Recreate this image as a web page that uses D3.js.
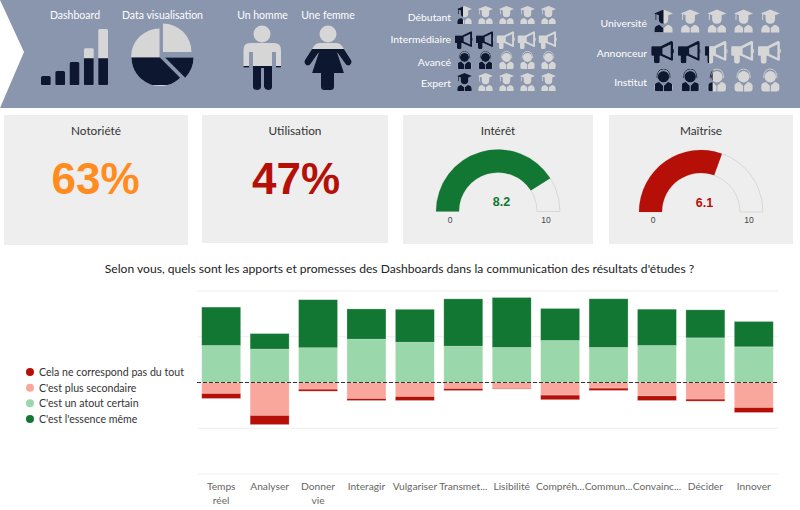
<!DOCTYPE html>
<html>
<head>
<meta charset="utf-8">
<script src="https://cdn.jsdelivr.net/npm/d3@7"></script>
<style>
  html, body { margin: 0; padding: 0; background: #fff; }
  svg { display: block; }
  text { font-family: Lato, "Open Sans", sans-serif; }
  .arial { font-family: "Liberation Sans", Arial, sans-serif; }
</style>
</head>
<body>
<svg id="chart" width="800" height="510"></svg>
<script>
// stacked bars, in % of answers
const categories = ["Temps réel", "Analyser", "Donner vie", "Interagir", "Vulgariser", "Transmet...", "Lisibilité", "Compréh...", "Commun...", "Convainc...", "Décider", "Innover"];
const essence = [42, 17, 52.5, 33, 36, 51.7, 54.6, 35, 53.2, 39.7, 30.6, 27.7];
const atout = [40.4, 36.5, 38, 47.4, 44, 39.7, 38.3, 45.9, 38.3, 40.4, 48.8, 39];
const secondaire = [12, 36, 7.3, 17.5, 15.3, 6.6, 6.5, 13.8, 6.2, 14.6, 18.2, 27.3];
const pasDuTout = [5.5, 10, 2.2, 2.2, 4.4, 2.2, 0.7, 5, 2.5, 5.1, 2.2, 5.5];
const yTicks = [100, 50, 0, -50, -100];

const legendLabels = ["Cela ne correspond pas du tout", "C'est plus secondaire", "C'est un atout certain", "C'est l'essence même"];

// header figures
const dashboardShare = 0.48, datavizShare = 0.45, hommeShare = 0.37, femmeShare = 0.63;
const barHeights = [0.33, 0.51, 0.83, 1.32, 2];
const pieSlices = [25, 12.5, 37.5, 25];
const levelLabels = ["Débutant", "Intermédiaire", "Avancé", "Expert"];
const levelValues = [0.4, 1.97, 2, 1];
const levelIcons = ["grad", "mega", "head", "grad"];
const orgLabels = ["Université", "Annonceur", "Institut"];
const orgValues = [0.5, 2.2, 2.25];
const orgIcons = ["grad", "mega", "head"];

// KPI
const notoriete = 63, utilisation = 47, interet = 8.2, maitrise = 6.1;

const GREEN = "#117733", LGREEN = "#9ad8ac", PINK = "#f9a69d", RED = "#b50f07";
const NAVY = "#0d1730", LIGHT = "#d6d6d6", BAND = "#8a96ae";

const svg = d3.select("#chart");
const defs = svg.append("defs");
let clipId = 0;

// light shape, then the same shape in navy clipped to the filled part
function twoTone(parent, draw, box, filled, vertical) {
  const id = "clip" + (clipId++);
  const r = defs.append("clipPath").attr("id", id).append("rect");
  if (vertical) {
    r.attr("x", box[0]).attr("width", box[2])
      .attr("y", box[1] + box[3] * (1 - filled)).attr("height", box[3] * filled);
  } else {
    r.attr("x", box[0]).attr("y", box[1]).attr("height", box[3]).attr("width", box[2] * filled);
  }
  draw(parent.append("g").attr("fill", LIGHT).attr("stroke", LIGHT));
  draw(parent.append("g").attr("clip-path", `url(#${id})`).attr("fill", NAVY).attr("stroke", NAVY));
}

/* ---------- header band ---------- */
svg.append("rect").attr("x", 0).attr("y", 0).attr("width", 800).attr("height", 108).attr("fill", BAND);
svg.append("path").attr("d", "M0,0L24,52L0,108Z").attr("fill", "#fff");

function headText(x, y, str, anchor, size) {
  svg.append("text").attr("x", x).attr("y", y).attr("fill", "#fff")
    .attr("text-anchor", anchor || "middle").attr("font-size", size || 10.5).text(str);
}
headText(75, 18.5, "Dashboard");
headText(162.5, 18.5, "Data visualisation");
headText(262.5, 18.5, "Un homme");
headText(328, 18.5, "Une femme");

// dashboard bars
const barX = d3.scaleBand().domain(d3.range(barHeights.length)).range([41, 108]).paddingInner(0.32);
const barY = d3.scaleLinear().domain([0, 2]).range([85.3, 29]);
twoTone(svg.append("g"), g => {
  g.selectAll("rect").data(barHeights).join("rect")
    .attr("x", (d, i) => barX(i)).attr("width", barX.bandwidth())
    .attr("y", d => barY(d)).attr("height", d => barY(0) - barY(d))
    .attr("rx", 1.5).attr("stroke", "none");
}, [40, 29, 70, 56.3], dashboardShare, true);

// pie, slices pulled apart
const pieArc = d3.arc().innerRadius(0).outerRadius(28.5);
const pieData = d3.pie().sort(null)(pieSlices);
const pieCentres = [[163, 52], [165, 57.5], [160, 57.5], [159.5, 57]];
twoTone(svg.append("g"), g => {
  g.selectAll("path").data(pieData).join("path")
    .attr("d", pieArc).attr("stroke", "none")
    .attr("transform", (d, i) => `translate(${pieCentres[i][0]},${pieCentres[i][1]})`);
}, [125, 23, 75, 62], datavizShare, true);

// man
function man(g) {
  g.append("circle").attr("cx", 262).attr("cy", 34).attr("r", 8.5).attr("stroke", "none");
  g.append("path").attr("stroke", "none").attr("d",
    "M250,43H274Q281,43,281,50V67.5H276V52H272V87Q272,90,268.5,90T264,87V68H261V87Q261,90,257,90T253,87V52H249V67.5H243.5V50Q243.5,43,250,43Z");
}
twoTone(svg.append("g"), man, [240, 25, 45, 65], hommeShare, true);

// woman
function woman(g) {
  g.append("circle").attr("cx", 328).attr("cy", 34).attr("r", 8.5).attr("stroke", "none");
  g.append("path").attr("stroke", "none").attr("d",
    "M320,43H336Q340,43,342,46L351,60Q352.5,63,350,65Q347.5,66.5,345.5,64L337,52L344,73H334V87Q334,90,331,90H324Q321,90,321,87V73H312L319,52L310.5,64Q308.5,66.5,306,65Q303.5,63,305,60L314,46Q316,43,320,43Z");
}
twoTone(svg.append("g"), woman, [300, 25, 55, 65], femmeShare, true);

/* ---------- little icons, drawn in a 20x24 box ---------- */
const iconBox = { grad: [0, 0, 20, 24], mega: [-3, 0, 24, 24], head: [1, 0, 18, 24] };
const iconDraw = {
  grad(g) {
    g.append("path").attr("stroke", "none").attr("d",
      "M10,0L20,4L15,6V10Q15,15,10,15Q5,15,5,10V6L2.5,5V11H1.5V4.6L0,4Z" +
      "M5.5,16L9.5,19V24H0.5V21Q0.5,17,5.5,16ZM14.5,16Q19.5,17,19.5,21V24H10.5V19Z");
  },
  mega(g) {
    g.append("path").attr("stroke", "none").attr("fill-rule", "evenodd").attr("d",
      "M-2,6H7L18,0.5Q20,0,20,2V20Q20,22,18,21L7,16H6V22Q6,24,4,24H2Q0,24,0,22V16H-2Q-3,16,-3,15V7Q-3,6,-2,6Z" +
      "M9,8V14L17.5,18V4Z");
    g.append("rect").attr("stroke", "none").attr("x", 20).attr("y", 9).attr("width", 1).attr("height", 4);
  },
  head(g) {
    g.append("path").attr("fill", "none").attr("stroke-width", 0.9).attr("d", "M3,10Q3,0.5,10,0.5Q17,0.5,17,10");
    g.append("circle").attr("stroke", "none").attr("cx", 10).attr("cy", 8.5).attr("r", 6);
    g.append("path").attr("stroke", "none").attr("d",
      "M5.5,14L9.5,18V24H3Q0.5,24,0.5,21.5V18Q0.5,15,5.5,14ZM14.5,14Q19.5,15,19.5,18V21.5Q19.5,24,17,24H10.5V18Z");
  }
};

function iconRows(labels, values, icons, labelY, iconY, labelX, iconX, step, scale) {
  labels.forEach((label, i) => {
    headText(labelX, labelY[i] + 4, label, "end", 10.4);
    d3.range(5).forEach(k => {
      const g = svg.append("g")
        .attr("transform", `translate(${iconX + k * step},${iconY[i] - 12 * scale}) scale(${scale})`);
      const filled = Math.max(0, Math.min(1, values[i] - k));
      twoTone(g, iconDraw[icons[i]], iconBox[icons[i]], filled, false);
    });
  });
}
iconRows(levelLabels, levelValues, levelIcons, [17, 39, 61.5, 83], [15, 40, 60, 82], 451, 457, 21, 0.75);
iconRows(orgLabels, orgValues, orgIcons, [23, 53, 82], [21, 52, 80], 647, 654, 26.7, 0.95);

/* ---------- KPI cards ---------- */
const cards = [
  { x: 4, w: 184, h: 130, title: "Notoriété" },
  { x: 202, w: 186, h: 128, title: "Utilisation" },
  { x: 403, w: 190, h: 129, title: "Intérêt" },
  { x: 609, w: 184, h: 129, title: "Maîtrise" }
];
cards.forEach(c => {
  svg.append("rect").attr("x", c.x).attr("y", 115).attr("width", c.w).attr("height", c.h).attr("fill", "#eeeeee");
  svg.append("text").attr("x", c.x + c.w / 2).attr("y", 135).attr("text-anchor", "middle")
    .attr("font-size", 11.8).attr("fill", "#333").text(c.title);
});
function bigNumber(x, value, color) {
  svg.append("text").attr("class", "arial").attr("x", x).attr("y", 194).attr("text-anchor", "middle")
    .attr("font-size", 44).attr("font-weight", "bold").attr("fill", color).text(value + "%");
}
bigNumber(95.5, notoriete, "#ff8c1f");
bigNumber(296, utilisation, RED);

function gauge(cx, cy, value, color) {
  const angle = d3.scaleLinear().domain([0, 10]).range([-Math.PI / 2, Math.PI / 2]);
  const arc = d3.arc().innerRadius(39).outerRadius(62);
  const g = svg.append("g").attr("transform", `translate(${cx},${cy})`);
  g.append("path").attr("d", arc({ startAngle: angle(0), endAngle: angle(10) }))
    .attr("fill", "#eeeeee").attr("stroke", "#d8d8d8");
  g.append("path").attr("d", arc({ startAngle: angle(0), endAngle: angle(value) })).attr("fill", color);
  g.append("text").attr("class", "arial").attr("x", 3.5).attr("y", -5.5).attr("text-anchor", "middle")
    .attr("font-size", 12.5).attr("font-weight", "bold").attr("fill", color).text(value);
  g.selectAll(".lim").data([0, 10]).join("text").attr("class", "arial")
    .attr("x", d => d === 0 ? -48 : 48).attr("y", 11).attr("text-anchor", "middle")
    .attr("font-size", 8.5).attr("fill", "#444").text(d => d);
}
gauge(498, 211.5, interet, GREEN);
gauge(701, 212, maitrise, RED);

/* ---------- question + stacked bars ---------- */
svg.append("text").attr("x", 399.5).attr("y", 273).attr("text-anchor", "middle")
  .attr("font-size", 12.1).attr("fill", "#222")
  .text("Selon vous, quels sont les apports et promesses des Dashboards dans la communication des résultats d'études ?");

const x = d3.scaleBand().domain(categories).range([197, 778]).paddingInner(0.195).paddingOuter(0.0975);
const y = d3.scaleLinear().domain([-100, 100]).range([474, 291]);

svg.append("g").selectAll("line").data(yTicks).join("line")
  .attr("x1", 197).attr("x2", 778).attr("y1", d => y(d)).attr("y2", d => y(d))
  .attr("stroke", "#eeeeee");

const rows = categories.map((c, i) => ({ c, essence: essence[i], atout: atout[i], secondaire: secondaire[i], pasDuTout: pasDuTout[i] }));
const posStack = d3.stack().keys(["atout", "essence"])(rows);
const negStack = d3.stack().keys(["secondaire", "pasDuTout"])(rows);
const colorOf = { atout: LGREEN, essence: GREEN, secondaire: PINK, pasDuTout: RED };

function drawStack(stack, sign) {
  svg.append("g").selectAll("g").data(stack).join("g")
    .attr("fill", s => colorOf[s.key])
    .selectAll("rect").data(s => s).join("rect")
    .attr("x", d => x(d.data.c)).attr("width", x.bandwidth())
    .attr("y", d => sign > 0 ? y(d[1]) : y(-d[0]))
    .attr("height", d => Math.abs(y(d[1]) - y(d[0])))
    .attr("stroke", "#fff").attr("stroke-opacity", 0.35).attr("stroke-width", 0.7);
}
drawStack(posStack, 1);
drawStack(negStack, -1);

svg.append("line").attr("x1", 197).attr("x2", 778).attr("y1", y(0)).attr("y2", y(0))
  .attr("stroke", "#333").attr("stroke-width", 1.2).attr("stroke-dasharray", "4,2");

// category labels, on two lines when they hold a space
const labels = svg.append("g").selectAll("text").data(categories).join("text")
  .attr("x", d => x(d) + x.bandwidth() / 2).attr("y", 490).attr("text-anchor", "middle")
  .attr("font-size", 10.2).attr("fill", "#666");
labels.each(function (d) {
  const parts = d.includes(" ") ? d.split(" ") : [d];
  d3.select(this).selectAll("tspan").data(parts).join("tspan")
    .attr("x", x(d) + x.bandwidth() / 2).attr("dy", (p, i) => i ? 13.5 : 0).text(p => p);
});

// legend
const legendColors = [RED, PINK, LGREEN, GREEN];
const legendY = d3.scalePoint().domain(legendLabels).range([372, 419]);
const legend = svg.append("g").selectAll("g").data(legendLabels).join("g")
  .attr("transform", d => `translate(30,${legendY(d)})`);
legend.append("circle").attr("r", 4).attr("fill", (d, i) => legendColors[i]);
legend.append("text").attr("x", 9).attr("y", 4).attr("font-size", 10.6).attr("fill", "#333").text(d => d);
</script>
</body>
</html>
